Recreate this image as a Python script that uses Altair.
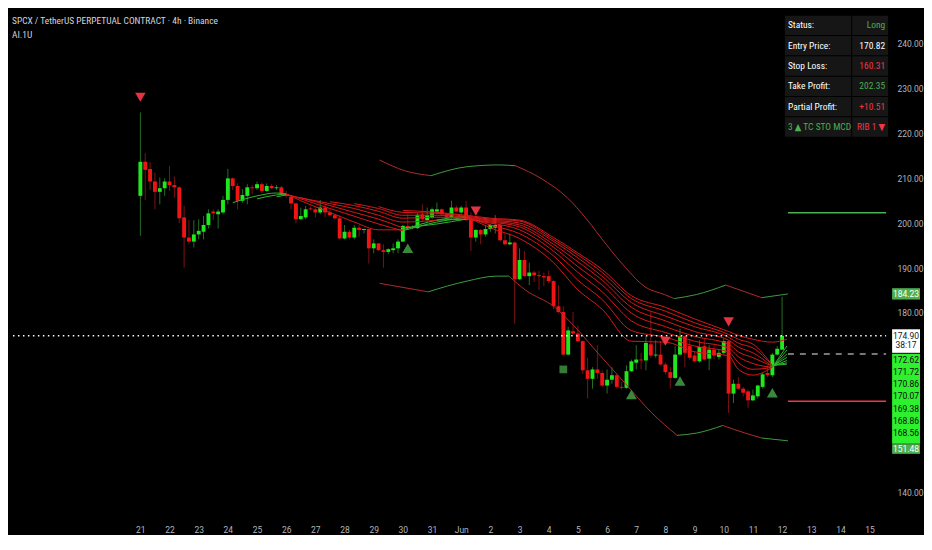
import altair as alt
import pandas as pd

TITLE = "SPCX / TetherUS PERPETUAL CONTRACT · 4h · Binance"
SUBTITLE = "AI.1U"

# ---- 4h candles (index 0 = 21 May 00:00, 6 candles per day) ----
OPEN = [206.1, 213.7, 212.1, 209.3, 207.0, 207.8, 209.3, 208.5, 208.0, 201.3,
        196.8, 195.9, 197.5, 198.1, 199.6, 202.6, 202.0, 202.4, 205.2, 210.0,
        208.3, 205.0, 206.1, 208.0, 207.8, 208.7, 207.2, 208.3, 207.8, 208.0,
        206.5, 205.9, 204.4, 200.9, 201.3, 203.3, 203.1, 202.4, 203.5, 202.4,
        201.8, 201.1, 196.6, 198.1, 196.8, 199.0, 198.5, 198.7, 194.4, 195.5,
        194.0, 193.6, 194.0, 194.4, 195.9, 199.4, 199.1, 198.9, 202.0, 200.7,
        201.3, 202.6, 203.1, 202.0, 201.3, 203.5, 202.4, 203.5, 200.7, 196.8,
        198.5, 197.5, 198.7, 199.0, 199.6, 196.2, 195.3, 195.7, 187.5, 191.8,
        188.2, 189.0, 188.4, 188.2, 188.2, 187.1, 181.5, 180.2, 170.7, 175.9,
        175.4, 173.7, 167.2, 165.3, 167.4, 166.6, 163.8, 165.1, 166.1, 163.5,
        163.3, 167.0, 168.9, 169.6, 169.4, 173.0, 170.5, 170.7, 168.5, 166.8,
        165.5, 170.7, 174.8, 172.6, 170.5, 169.2, 172.6, 169.8, 171.8, 170.2,
        171.1, 173.7, 162.0, 164.2, 163.1, 162.5, 160.5, 161.4, 163.5, 166.6,
        166.1, 170.7, 171.8]
HIGH = [224.7, 215.6, 213.6, 211.3, 210.2, 210.0, 212.8, 210.4, 208.2, 203.9,
        200.7, 200.7, 200.9, 201.6, 203.1, 203.1, 203.1, 206.1, 212.1, 210.2,
        208.9, 207.6, 208.7, 208.5, 209.3, 209.1, 208.9, 208.7, 208.5, 208.3,
        207.2, 206.3, 204.6, 203.5, 203.9, 203.7, 203.5, 205.2, 203.9, 203.1,
        202.0, 201.8, 199.6, 198.5, 199.6, 199.6, 198.8, 198.8, 196.4, 195.6,
        195.3, 194.4, 195.5, 196.4, 199.6, 202.0, 199.6, 202.2, 204.2, 203.5,
        203.5, 204.6, 203.3, 202.2, 205.0, 203.9, 203.9, 205.0, 202.4, 198.7,
        198.7, 199.6, 199.8, 201.8, 199.8, 197.7, 197.7, 195.9, 194.4, 193.8,
        191.2, 189.4, 189.4, 189.0, 189.4, 187.3, 186.2, 181.5, 176.9, 180.2,
        177.1, 173.9, 170.0, 167.9, 172.8, 167.2, 167.4, 167.9, 166.3, 164.6,
        168.3, 169.6, 172.8, 171.1, 174.8, 180.2, 173.9, 173.7, 168.9, 167.9,
        172.6, 176.5, 174.9, 173.9, 171.5, 173.9, 174.3, 172.8, 172.6, 171.8,
        174.3, 173.9, 165.1, 165.7, 163.5, 162.9, 162.9, 164.0, 166.8, 168.3,
        171.1, 172.6, 183.6]
LOW = [197.2, 205.2, 207.4, 203.1, 204.2, 206.1, 207.2, 205.7, 200.0, 190.1,
       195.3, 194.6, 196.4, 196.4, 198.8, 200.7, 198.8, 202.0, 204.2, 207.4,
       203.1, 204.6, 204.2, 206.5, 207.4, 206.7, 207.0, 207.6, 207.4, 206.3,
       205.7, 203.1, 200.0, 200.7, 200.9, 202.9, 201.3, 202.0, 201.3, 201.6,
       200.9, 196.4, 196.4, 196.4, 196.4, 197.0, 197.7, 191.0, 193.3, 193.8,
       190.1, 193.1, 193.3, 193.3, 195.9, 198.7, 198.6, 198.7, 200.3, 200.3,
       200.9, 202.0, 201.8, 200.9, 200.9, 202.4, 202.0, 200.5, 193.8, 195.9,
       195.3, 197.0, 198.1, 197.7, 195.9, 195.1, 195.1, 177.6, 187.3, 188.0,
       186.2, 186.9, 185.1, 186.0, 186.6, 180.8, 180.0, 170.5, 170.5, 175.0,
       173.5, 166.4, 160.9, 163.1, 165.3, 163.5, 162.0, 164.2, 163.1, 162.9,
       163.1, 166.8, 167.4, 167.4, 167.2, 170.0, 170.0, 168.3, 166.3, 163.1,
       165.3, 170.5, 167.9, 169.6, 168.9, 168.9, 169.4, 167.2, 169.6, 169.6,
       170.7, 157.7, 159.9, 162.9, 161.4, 158.8, 160.3, 160.9, 163.1, 165.7,
       165.7, 170.5, 171.8]
CLOSE = [213.7, 211.9, 209.3, 207.0, 207.8, 209.3, 208.5, 208.0, 201.1, 196.8,
         195.9, 197.5, 198.3, 199.6, 202.2, 202.2, 202.6, 205.2, 210.0, 208.3,
         205.0, 206.3, 208.0, 207.8, 208.7, 207.2, 208.3, 207.8, 208.0, 206.5,
         206.1, 204.4, 200.9, 201.6, 203.1, 203.1, 202.4, 203.5, 202.4, 201.8,
         201.1, 196.6, 198.1, 196.8, 199.0, 198.5, 198.7, 194.4, 195.5, 194.0,
         193.6, 194.2, 194.4, 195.9, 199.4, 199.1, 198.9, 201.9, 200.9, 201.8,
         203.1, 203.1, 202.0, 201.3, 203.5, 202.6, 203.5, 200.7, 196.8, 198.5,
         197.5, 198.7, 199.6, 199.6, 196.2, 195.3, 195.7, 187.5, 191.8, 188.2,
         189.0, 188.4, 188.2, 187.9, 187.1, 181.5, 180.2, 170.7, 176.1, 175.4,
         173.7, 167.2, 165.3, 167.4, 166.6, 163.8, 165.1, 166.1, 163.5, 163.3,
         167.0, 169.2, 169.6, 169.4, 173.3, 170.5, 170.7, 168.5, 166.8, 165.5,
         170.7, 174.8, 171.1, 170.0, 169.2, 172.4, 169.6, 171.8, 170.5, 171.1,
         173.7, 162.0, 164.2, 163.1, 162.2, 160.5, 161.6, 163.8, 166.3, 166.1,
         170.7, 172.0, 174.9]

# ---- EMA ribbon (8 lines), read at sample candle indices ----
RIB_X = [19, 24, 28, 30, 33, 39, 44, 49, 54, 61, 67, 72, 78, 85, 90, 95,
         101, 108, 114, 121, 123, 126, 130, 133]
N = None
RIB_0 = [204.58, 206.09, 206.74, 206.52, 205.01, 202.42, 200.26, 198.53, 198.53, 200.69, 201.56, 198.96,
         196.59, 191.19, 185.14, 180.82, 173.69, 173.48, 171.32, 170.45, 167.43, 166.13, 167.86, 172.62]
RIB_1 = [N, 205.44, 206.31, 206.52, 205.44, 203.28, 201.56, 199.83, 198.32, 200.26, 201.34, 199.61,
         197.67, 192.70, 187.30, 182.98, 176.07, 174.56, 172.61, 171.32, 168.94, 167.43, 167.86, 171.72]
RIB_2 = [N, N, 205.88, 206.31, 205.66, 203.93, 202.42, 200.91, 198.96, 199.83, 200.91, 200.04,
         198.53, 193.78, 189.03, 184.71, 178.23, 175.64, 173.69, 172.18, 170.24, 168.72, 167.86, 170.86]
RIB_3 = [N, N, N, N, 205.66, 204.36, 203.28, 201.77, 200.26, 200.69, 200.91, 200.26,
         199.18, 194.64, 190.32, 186.22, 179.96, 176.93, 174.77, 173.04, 171.32, 170.02, 168.08, 170.07]
RIB_4 = [N, N, N, N, N, 204.80, 203.93, 202.64, 201.12, 201.34, 201.12, 200.48,
         199.61, 195.29, 191.40, 187.30, 181.25, 178.23, 175.85, 173.91, 172.40, 171.10, 168.08, 169.38]
RIB_5 = [N, N, N, N, N, N, 204.36, 203.28, 201.77, 201.77, 201.34, 200.69,
         200.04, 195.94, 192.27, 188.16, 182.33, 179.31, 176.93, 174.56, 173.26, 172.18, 168.29, 168.86]
RIB_6 = [N, N, N, N, N, N, N, 203.72, 202.42, 202.20, 201.56, 200.91,
         200.48, 196.37, 192.92, 189.03, 183.20, 180.39, 177.80, 175.20, 174.12, 173.04, 168.29, 168.56]
RIB_7 = [N, N, N, N, N, N, N, N, 202.85, 202.42, 201.77, 201.12,
         200.69, 196.80, 193.35, 189.68, 183.84, 181.25, 178.66, 175.85, 174.99, 174.12, 173.48, 174.12]
RIB_LINES = [RIB_0, RIB_1, RIB_2, RIB_3, RIB_4, RIB_5, RIB_6, RIB_7]
# colour of the segment that starts at each sample: g = rising, r = falling
RIB_CODES = ["gggrrrrrggrrrrrrrrrrrrgg",
             "gggrrrrrggrrrrrrrrrrrrgg",
             "gggrrrrrggrrrrrrrrrrrrgg",
             "rrrrrrrrrgrrrrrrrrrrrrgg",
             "rrrrrrrrrrrrrrrrrrrrrrgg",
             "rrrrrrrrrrrrrrrrrrrrrrgg",
             "rrrrrrrrrrrrrrrrrrrrrrgg",
             "rrrrrrrrrrrrrrrrrrrrrrrr"]

# ---- envelope bands ----
UPPER_X = [49.2, 54.4, 59.8, 67.2, 73.8, 77.2, 82.4, 87.8, 91.8, 95.8, 99.8, 103.8,
           107.8, 109.8, 114.4, 120.4, 124.4, 127.8, 133.2]
UPPER_P = [214.1, 211.7, 210.6, 212.6, 213.0, 212.8, 210.0, 205.7, 200.9, 195.3, 190.1, 185.8,
           184.1, 183.2, 184.1, 186.2, 184.7, 183.4, 184.23]
UPPER_C = "rrgggrrrrrrrrggrrgg"
LOWER_X = [49.2, 59.2, 67.2, 73.2, 75.8, 79.2, 85.2, 89.2, 94.4, 99.8, 105.2, 110.4,
           114.4, 119.8, 124.4, 127.8, 133.2]
LOWER_P = [186.6, 184.7, 187.1, 188.2, 188.2, 185.1, 181.3, 177.1, 170.7, 164.2, 157.7, 152.7,
           153.2, 154.9, 153.2, 152.1, 151.48]
LOWER_C = "rgggrrrrrrrggrrgg"

# ---- signals ----
SELL_X = [0, 69, 108, 121]
SELL_P = [228.1, 202.7, 173.7, 178.0]
BUY_X = [55, 101, 111, 130]
BUY_P = [194.4, 161.8, 164.8, 162.2]
TAG_X = [87]
TAG_P = [167.4]

# ---- levels ----
LAST_PRICE = 174.90
ENTRY = 170.82
STOP = 160.31
TARGET = 202.35
LEVEL_START = 133.2

# ---- axes ----
DAY_LABELS = ["21", "22", "23", "24", "25", "26", "27", "28", "29", "30", "31", "Jun",
              "2", "3", "4", "5", "6", "7", "8", "9", "10", "11", "12", "13", "14", "15"]
Y_TICKS = [140, 180, 190, 200, 210, 220, 230, 240]
X_DOMAIN = [-26.2, 153.4]
Y_DOMAIN = [134.0, 247.8]

# ---- right-scale price tags ----
TAG_TEXT = ["184.23", "174.90", "38:17", "172.62", "171.72", "170.86", "170.07",
            "169.38", "168.86", "168.56", "151.48"]
TAG_TEXT_P = [184.28, 174.92, 172.76, 169.52, 166.78, 164.04, 161.38, 158.66, 155.92, 153.24, 149.72]
TAG_TEXT_KIND = ["m", "w", "w", "l", "l", "l", "l", "l", "l", "l", "m"]
BOX_TOP = [185.51, 176.35, 170.88, 150.73]
BOX_BOT = [182.98, 171.10, 150.80, 148.57]
BOX_KIND = ["m", "w", "l", "m"]

# ---- status table ----
TABLE_LABELS = ["Status:", "Entry Price:", "Stop Loss:", "Take Profit:", "Partial Profit:", "3 ▲ TC STO MCD"]
TABLE_VALUES = ["Long", "170.82", "160.31", "202.35", "+10.51", "RIB 1 ▼"]
TABLE_LABEL_KIND = ["t", "t", "t", "t", "t", "g"]
TABLE_VALUE_KIND = ["g", "t", "r", "g", "r", "r"]

# ---- styles ----
BG = "#000000"
BODY_UP, BODY_DN = "#1de91d", "#f01414"
WICK_UP, WICK_DN = "#256d25", "#7e1212"
RIB_G, RIB_R = "#2fb52f", "#d81818"
BAND_G, BAND_R = "#3f9a3f", "#b02a2a"
SIG_R, SIG_G = "#f23645", "#43a047"
TXT = "#d1d4dc"
AXIS_TXT = "#b2b5be"
FONT = "Roboto, Noto Sans, sans-serif"
TFONT = "Liberation Sans Narrow, Roboto Condensed, DejaVu Sans Condensed, Roboto, sans-serif"
W, H = 886, 512

XS = alt.Scale(domain=X_DOMAIN, nice=False, zero=False)
YS = alt.Scale(domain=Y_DOMAIN, nice=False, zero=False)

label_expr = "''"
for k in range(len(DAY_LABELS) - 1, -1, -1):
    label_expr = f"datum.value == {6 * k} ? '{DAY_LABELS[k]}' : ({label_expr})"

X_AXIS = alt.Axis(values=[6 * k for k in range(len(DAY_LABELS))], labelExpr=label_expr,
                  labelColor=AXIS_TXT, labelFontSize=8.5, labelFont=FONT, ticks=False,
                  domain=False, grid=False, labelPadding=6, labelOverlap=False, labelFlush=False)
Y_AXIS = alt.Axis(orient="right", values=Y_TICKS, format=".2f", labelColor=AXIS_TXT,
                  labelFontSize=8.5, labelFont=FONT, ticks=False, domain=False, grid=False,
                  labelPadding=6)


def X(field):
    return alt.X(f"{field}:Q", scale=XS, axis=X_AXIS, title=None)


def Y(field):
    return alt.Y(f"{field}:Q", scale=YS, axis=Y_AXIS, title=None)


# candles
cdf = pd.DataFrame({"i": range(len(OPEN)), "o": OPEN, "h": HIGH, "l": LOW, "c": CLOSE})
up = cdf["c"] >= cdf["o"]
cdf["top"] = cdf[["o", "c"]].max(axis=1)
cdf["bot"] = cdf[["o", "c"]].min(axis=1)
cdf["body"] = [BODY_UP if u else BODY_DN for u in up]
cdf["wick"] = [WICK_UP if u else WICK_DN for u in up]


def runs(xs, ps, codes, name, cmap):
    rows = []
    pts = [(x, p, c) for x, p, c in zip(xs, ps, codes) if p is not None]
    run, cur = 0, None
    for j in range(len(pts) - 1):
        x, p, c = pts[j]
        if c != cur:
            run += 1
            cur = c
            rows.append({"run": f"{name}-{run}", "x": x, "p": p, "col": cmap[c]})
        x2, p2, _ = pts[j + 1]
        rows.append({"run": f"{name}-{run}", "x": x2, "p": p2, "col": cmap[c]})
    return rows


rib_rows = []
for k, (vals, codes) in enumerate(zip(RIB_LINES, RIB_CODES)):
    rib_rows += runs(RIB_X, vals, codes, f"r{k}", {"g": RIB_G, "r": RIB_R})
rdf = pd.DataFrame(rib_rows)
band_rows = runs(UPPER_X, UPPER_P, UPPER_C, "up", {"g": BAND_G, "r": BAND_R}) + \
    runs(LOWER_X, LOWER_P, LOWER_C, "lo", {"g": BAND_G, "r": BAND_R})
bdf = pd.DataFrame(band_rows)

wick = alt.Chart(cdf).mark_rule(strokeWidth=1).encode(
    x=X("i"), y=Y("l"), y2="h", color=alt.Color("wick:N", scale=None))
body = alt.Chart(cdf).mark_bar(size=3.9).encode(
    x=X("i"), y=Y("bot"), y2="top", color=alt.Color("body:N", scale=None))
ribbon = alt.Chart(rdf).mark_line(strokeWidth=1, interpolate="monotone").encode(
    x=X("x"), y=Y("p"), detail="run:N", color=alt.Color("col:N", scale=None))
bands = alt.Chart(bdf).mark_line(strokeWidth=1, interpolate="monotone").encode(
    x=X("x"), y=Y("p"), detail="run:N", color=alt.Color("col:N", scale=None))

ldf = pd.DataFrame({"x0": [LEVEL_START, LEVEL_START], "x1": [X_DOMAIN[1]] * 2,
                    "p": [TARGET, STOP], "col": ["#4caf50", "#f23645"]})
levels = alt.Chart(ldf).mark_rule(strokeWidth=1.5).encode(
    x=X("x0"), x2="x1", y=Y("p"), color=alt.Color("col:N", scale=None))
entry = alt.Chart(pd.DataFrame({"x0": [LEVEL_START], "x1": [X_DOMAIN[1]], "p": [ENTRY]})).mark_rule(
    strokeWidth=1.5, strokeDash=[6, 6], color="#9e9e9e").encode(x=X("x0"), x2="x1", y=Y("p"))
last = alt.Chart(pd.DataFrame({"x0": [X_DOMAIN[0]], "x1": [X_DOMAIN[1]], "p": [LAST_PRICE]})).mark_rule(
    strokeWidth=1.5, strokeDash=[1.5, 3.5], color="#ffffff").encode(x=X("x0"), x2="x1", y=Y("p"))

sell = alt.Chart(pd.DataFrame({"x": SELL_X, "p": SELL_P})).mark_point(
    shape="triangle-down", filled=True, size=110, opacity=0.95, color=SIG_R).encode(x=X("x"), y=Y("p"))
buy = alt.Chart(pd.DataFrame({"x": BUY_X, "p": BUY_P})).mark_point(
    shape="triangle-up", filled=True, size=120, opacity=0.85, color=SIG_G).encode(x=X("x"), y=Y("p"))
tag = alt.Chart(pd.DataFrame({"x": TAG_X, "p": TAG_P})).mark_square(
    size=60, opacity=0.7, color="#4caf50").encode(x=X("x"), y=Y("p"))

box_fill = {"m": "#4caf50", "w": "#ffffff", "l": "#2ef02e"}
text_fill = {"m": "#ffffff", "w": "#131722", "l": "#0b0b0b"}
boxdf = pd.DataFrame({"top": BOX_TOP, "bot": BOX_BOT, "fill": [box_fill[k] for k in BOX_KIND]})
boxes = alt.Chart(boxdf).mark_rect().encode(
    x=alt.value(W + 1), x2=alt.value(W + 29), y=Y("top"), y2="bot",
    color=alt.Color("fill:N", scale=None))
tagdf = pd.DataFrame({"t": TAG_TEXT, "p": TAG_TEXT_P, "c": [text_fill[k] for k in TAG_TEXT_KIND]})
tag_text = alt.Chart(tagdf).mark_text(fontSize=8.5, font=FONT).encode(
    x=alt.value(W + 15), y=Y("p"), text="t:N", color=alt.Color("c:N", scale=None))

# status table (pixel layout)
T_X0, T_XM, T_X1 = 779.5, 846.0, 883.0
T_Y0, T_ROW = 6.8, 20.4
kind_col = {"t": "#ffffff", "g": "#4caf50", "r": "#f23645"}
cells = []
for r in range(len(TABLE_LABELS)):
    y0 = T_Y0 + r * T_ROW
    cells.append({"x0": T_X0, "x1": T_XM, "y0": y0, "y1": y0 + T_ROW - 1})
    cells.append({"x0": T_XM + 1, "x1": T_X1, "y0": y0, "y1": y0 + T_ROW - 1})
table_bg = alt.Chart(pd.DataFrame(cells)).mark_rect(color="#161616").encode(
    x=alt.X("x0:Q", scale=None), x2="x1", y=alt.Y("y0:Q", scale=None), y2="y1")
tl = pd.DataFrame({"t": TABLE_LABELS, "x": [T_X0 + 3] * 6,
                   "y": [T_Y0 + r * T_ROW + (T_ROW - 1) / 2 for r in range(6)],
                   "c": [kind_col[k] for k in TABLE_LABEL_KIND]})
tv = pd.DataFrame({"t": TABLE_VALUES, "x": [T_X1 - 3] * 6,
                   "y": [T_Y0 + r * T_ROW + (T_ROW - 1) / 2 for r in range(6)],
                   "c": [kind_col[k] for k in TABLE_VALUE_KIND]})
table_l = alt.Chart(tl).mark_text(align="left", baseline="middle", fontSize=9.5, font=TFONT).encode(
    x=alt.X("x:Q", scale=None), y=alt.Y("y:Q", scale=None), text="t:N", color=alt.Color("c:N", scale=None))
table_v = alt.Chart(tv).mark_text(align="right", baseline="middle", fontSize=9.5, font=TFONT).encode(
    x=alt.X("x:Q", scale=None), y=alt.Y("y:Q", scale=None), text="t:N", color=alt.Color("c:N", scale=None))

titles = alt.Chart(pd.DataFrame({"t": [TITLE, SUBTITLE], "x": [4, 4], "y": [12, 26]})).mark_text(
    align="left", baseline="middle", fontSize=9.5, font=TFONT, color=TXT).encode(
    x=alt.X("x:Q", scale=None), y=alt.Y("y:Q", scale=None), text="t:N")

chart = alt.layer(
    wick, body, bands, ribbon, last, levels, entry, sell, buy, tag,
    boxes, tag_text, table_bg, table_l, table_v, titles
).properties(width=W, height=H, padding=0, background=BG).configure_view(stroke=None)

chart.save("out.html", embed_options={"renderer": "svg", "actions": False})
